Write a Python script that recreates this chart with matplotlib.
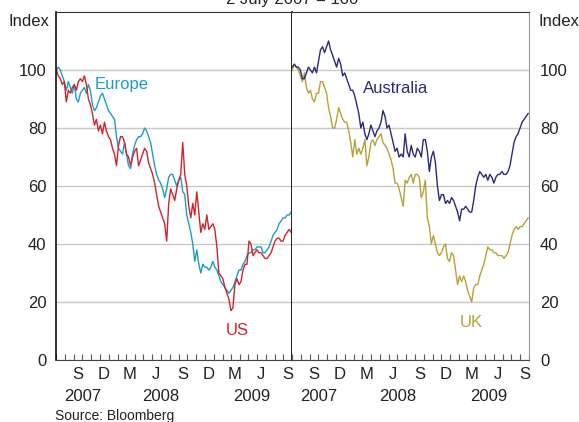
import matplotlib.pyplot as plt
import matplotlib.dates as mdates
from matplotlib.ticker import NullFormatter, FuncFormatter
import pandas as pd

plt.rcParams['font.family'] = ['Liberation Sans', 'DejaVu Sans']

# weekly readings, 2 July 2007 = 100
dates = pd.date_range('2007-07-02', periods=118, freq='W-MON')

europe = [100, 101, 100, 98, 96, 93, 96, 94, 92, 95, 90, 89, 92, 93, 94, 92, 95, 93, 88, 86,
          87, 89, 91, 92, 90, 88,
          86, 85, 84, 83, 77, 73, 72, 71, 75, 71, 67, 66, 71, 74, 76, 77, 77, 78, 80, 79,
          77, 75, 71, 67, 64, 62, 61, 59, 56, 59, 63, 64, 64, 62, 60, 62, 63,
          58, 57, 50, 47, 44, 40, 34, 38, 33, 30, 33, 32, 32, 31, 32, 34, 32, 31, 29, 27,
          26, 25, 24, 23, 24, 25, 27, 29, 31, 31, 33, 34, 36, 37, 37, 38, 38, 39, 39, 39,
          37, 37, 38, 39, 41, 43, 44, 45, 47, 48, 49, 49, 50, 50, 51]
us = [100, 98, 97, 95, 96, 89, 93, 92, 94, 95, 93, 96, 97, 96, 98, 95, 90, 88, 85, 81,
      83, 79, 81, 78, 82, 79,
      77, 76, 73, 71, 67, 74, 77, 77, 75, 71, 70, 67, 70, 72, 73, 67, 69, 71, 73, 72,
      68, 66, 64, 61, 57, 53, 51, 49, 47, 41, 54, 59, 57, 55, 59, 62, 64,
      75, 64, 60, 53, 49, 54, 50, 58, 51, 44, 47, 45, 50, 45, 46, 47, 45, 39, 30, 29,
      28, 25, 23, 21, 17, 18, 26, 28, 26, 27, 31, 33, 33, 41, 40, 36, 37, 38, 37, 37,
      36, 35, 35, 36, 37, 39, 41, 42, 42, 41, 41, 43, 44, 45, 44]
australia = [101, 102, 101, 101, 100, 97, 97, 99, 101, 100, 99, 101, 99, 103, 107, 108, 106, 108, 110, 107,
             105, 103, 101, 104, 102, 98,
             99, 97, 95, 93, 93, 91, 88, 85, 80, 82, 78, 76, 78, 81, 79, 77, 79, 80, 82, 86,
             84, 80, 81, 78, 75, 72, 73, 70, 71, 70, 78, 72, 70, 74, 71, 70, 73,
             72, 70, 76, 76, 72, 65, 70, 72, 68, 60, 55, 57, 57, 54, 55, 54, 56, 55, 53, 51,
             48, 52, 52, 53, 52, 51, 51, 55, 60, 63, 65, 64, 63, 64, 62, 64, 63, 61, 63, 64,
             64, 65, 64, 64, 65, 67, 71, 75, 77, 78, 80, 82, 83, 84, 85]
uk = [100, 102, 101, 100, 98, 96, 99, 94, 92, 93, 90, 89, 92, 92, 96, 96, 94, 92, 87, 84,
      80, 80, 83, 87, 85, 83,
      82, 82, 79, 75, 70, 76, 71, 73, 71, 73, 76, 67, 70, 75, 76, 74, 76, 77, 78, 75,
      74, 73, 71, 69, 66, 61, 61, 59, 56, 53, 62, 61, 63, 64, 61, 64, 64,
      63, 56, 58, 62, 49, 46, 40, 43, 40, 37, 36, 37, 39, 40, 35, 34, 37, 36, 31, 26,
      29, 27, 29, 27, 24, 22, 20, 25, 26, 26, 29, 31, 33, 36, 39, 38, 38, 37, 37, 36,
      36, 36, 35, 36, 37, 40, 43, 45, 46, 45, 46, 46, 47, 48, 49]

yticks = [0, 20, 40, 60, 80, 100]
years = ['2007', '2008', '2009']
year_pos = ['2007-10-01', '2008-07-01', '2009-05-15']

c_eu, c_us, c_au, c_uk = '#1a9dc8', '#d2232b', '#2a2a7d', '#b9a037'

W, H = 579, 422
fig = plt.figure(figsize=(W / 100, H / 100), dpi=100)
axL = fig.add_axes([56 / W, 62 / H, 236 / W, 348 / H])
axR = fig.add_axes([292 / W, 62 / H, 237 / W, 348 / H])

axL.plot(dates, europe, color=c_eu, lw=1.0)
axL.plot(dates, us, color=c_us, lw=1.0)
axR.plot(dates, uk, color=c_uk, lw=1.0)
axR.plot(dates, australia, color=c_au, lw=1.0)

for ax in (axL, axR):
    ax.set_xlim(pd.Timestamp('2007-07-01'), pd.Timestamp('2009-10-01'))
    ax.set_ylim(0, 120)
    ax.set_yticks(yticks)
    ax.grid(axis='y', color='#c8c8c8', lw=1.0)
    ax.set_axisbelow(True)
    ax.xaxis.set_major_locator(mdates.MonthLocator())
    ax.xaxis.set_major_formatter(NullFormatter())
    ax.xaxis.set_minor_locator(mdates.MonthLocator(bymonth=[3, 6, 9, 12], bymonthday=15))
    ax.xaxis.set_minor_formatter(FuncFormatter(lambda x, p: mdates.num2date(x).strftime('%b')[0]))
    ax.tick_params(axis='x', which='major', direction='in', length=4, width=0.8, color='#555')
    ax.tick_params(axis='x', which='minor', length=0, pad=5, labelsize=12, labelcolor='#222')
    ax.spines['top'].set_color('#333')
    ax.spines['bottom'].set_color('#444')
    for y, t in zip(year_pos, years):
        ax.text(pd.Timestamp(y), -0.106, t, transform=ax.get_xaxis_transform(),
                ha='center', va='center', fontsize=12, color='#222')

axL.tick_params(axis='y', length=0, pad=7, labelsize=12, labelcolor='#222')
axL.spines['left'].set_color('#111')
axL.spines['left'].set_linewidth(1.2)
axL.spines['right'].set_color('#111')
axL.spines['right'].set_linewidth(1.3)
axR.spines['left'].set_visible(False)
axR.spines['right'].set_color('#999')
axR.yaxis.tick_right()
axR.tick_params(axis='y', length=0, pad=8, labelsize=12, labelcolor='#222')

axL.text(pd.Timestamp('2007-11-11'), 93.6, 'Europe', color=c_eu, fontsize=12, va='baseline')
axL.text(pd.Timestamp('2009-02-13'), 8.7, 'US', color=c_us, fontsize=12, va='baseline')
axR.text(pd.Timestamp('2008-03-04'), 92, 'Australia', color=c_au, fontsize=12, va='baseline')
axR.text(pd.Timestamp('2009-02-01'), 11.5, 'UK', color=c_uk, fontsize=12, va='baseline')

fig.text(292 / W, 1 - 4 / H, '2 July 2007 = 100', ha='center', va='baseline', fontsize=12, color='#222')
fig.text(8 / W, 1 - 21 / H, 'Index', ha='left', va='center', fontsize=12, color='#222')
fig.text(538 / W, 1 - 21 / H, 'Index', ha='left', va='center', fontsize=12, color='#222')
fig.text(55 / W, 1 - 416 / H, 'Source: Bloomberg', ha='left', va='center', fontsize=10, color='#222')

fig.savefig('out.png', dpi=100)
